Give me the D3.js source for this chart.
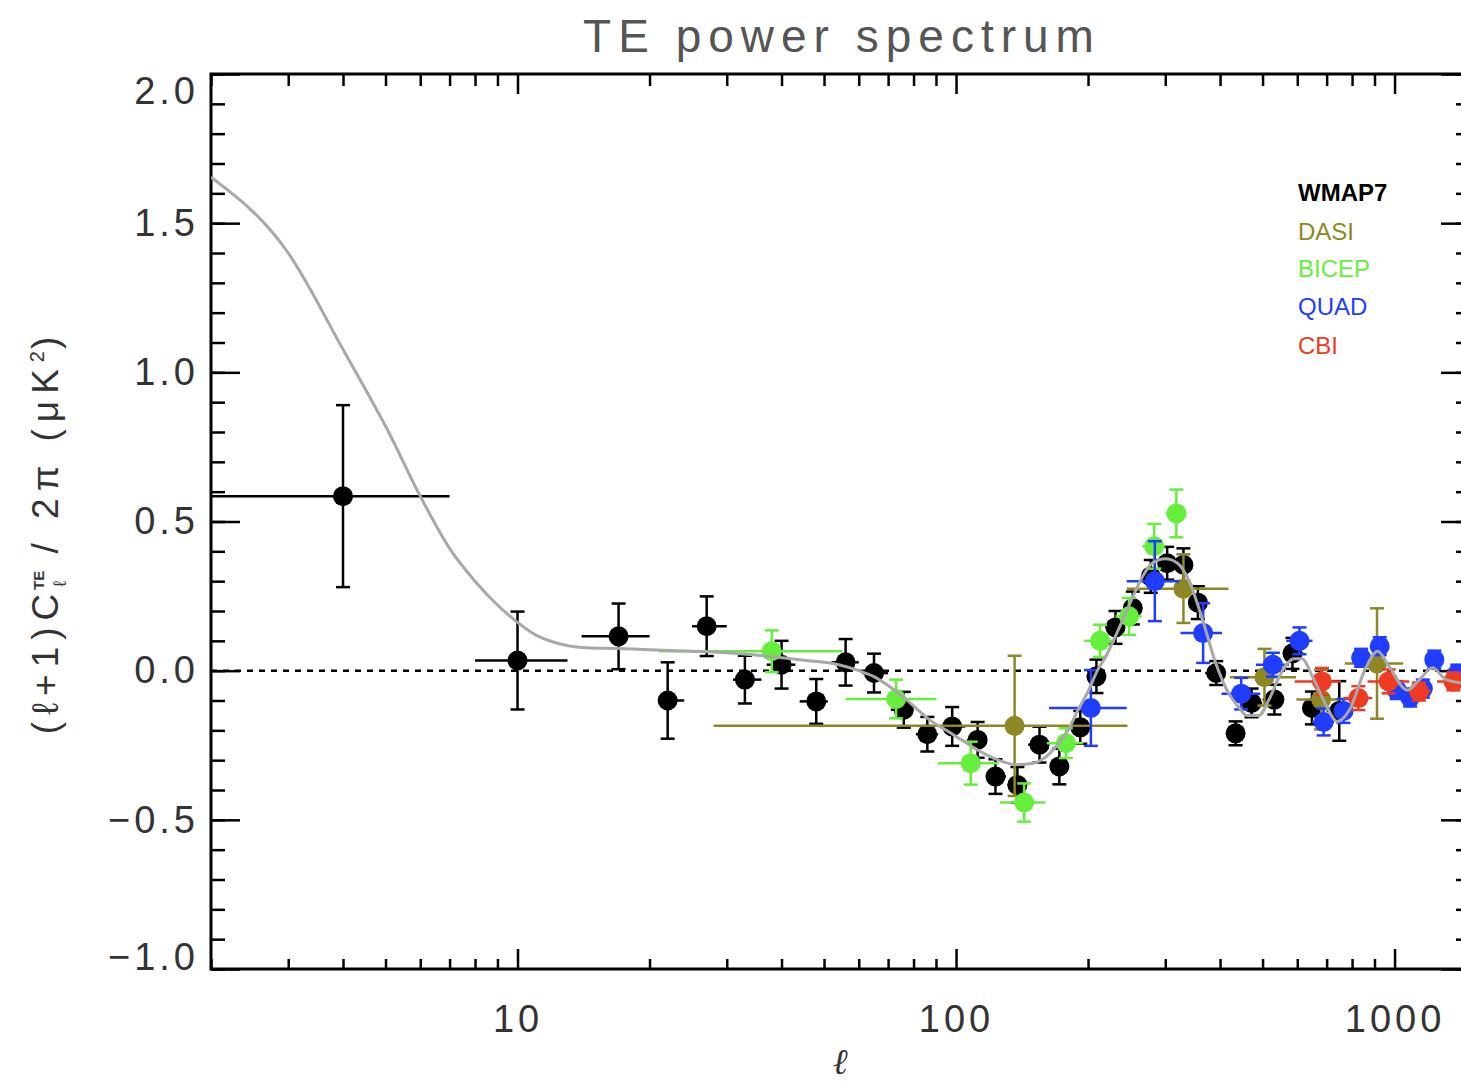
<!DOCTYPE html>
<html><head><meta charset="utf-8">
<script src="https://cdn.jsdelivr.net/npm/d3@7"></script>
<style>body{margin:0;background:#fff}</style>
</head><body>
<svg id="c" width="1461" height="1085"></svg>
<script>
// ---------- data ----------
const theoryL = [2,3,4,4.5,5,6,7,8,9,10,11,12,13,14,17,20,25,30,38,45,54,60,65,70,77,88,95,105,115,125,137,150,160,170,180,190,200,210,220,235,250,265,280,300,320,340,365,390,420,440,460,490,520,550,590,615,650,700,740,790,860,915,970,1070,1140,1220,1310,1486];
const theoryV = [1.654,1.40,1.077,0.943,0.82,0.585,0.41,0.30,0.22,0.162,0.12,0.097,0.084,0.078,0.074,0.07,0.065,0.06,0.047,0.035,0.02,0.0,-0.02,-0.05,-0.097,-0.17,-0.2,-0.24,-0.275,-0.30,-0.315,-0.31,-0.29,-0.25,-0.2,-0.13,-0.07,0.0,0.05,0.14,0.23,0.31,0.36,0.375,0.36,0.30,0.17,0.03,-0.08,-0.12,-0.15,-0.15,-0.09,-0.01,0.04,0.04,-0.02,-0.12,-0.17,-0.13,0.01,0.065,0.015,-0.065,-0.03,0.01,-0.03,-0.045];

const wmapL  = [4, 10, 17, 22, 27, 33, 40, 48, 56, 65, 76, 86, 98, 112, 123, 138, 155, 172, 192, 209, 231, 253, 278, 303, 330, 356, 392, 434, 472, 532, 585, 648, 748];
const wmapLo = [2, 8, 14, 21, 25, 31, 37, 44, 52, 61, 71, 81, 93, 106, 118, 131, 146, 164, 182, 200, 219, 242, 265, 292, 318, 342, 370, 413, 452, 500, 560, 620, 700];
const wmapHi = [7, 13, 20, 24, 30, 36, 43, 51, 60, 70, 80, 91, 105, 117, 130, 145, 163, 181, 199, 218, 241, 264, 291, 317, 341, 369, 412, 451, 499, 559, 619, 699, 800];
const wmapV  = [0.585, 0.034, 0.115, -0.10, 0.149, -0.03, 0.02, -0.103, 0.028, -0.008, -0.131, -0.213, -0.187, -0.232, -0.355, -0.383, -0.248, -0.321, -0.19, -0.019, 0.145, 0.21, 0.316, 0.36, 0.355, 0.228, -0.008, -0.21, -0.108, -0.097, 0.058, -0.125, -0.135];
const wmapE  = [0.305, 0.164, 0.11, 0.128, 0.10, 0.08, 0.08, 0.075, 0.078, 0.065, 0.06, 0.058, 0.065, 0.06, 0.058, 0.06, 0.06, 0.06, 0.055, 0.056, 0.055, 0.055, 0.055, 0.055, 0.055, 0.055, 0.04, 0.04, 0.048, 0.05, 0.052, 0.055, 0.1];

const dasiL  = [136, 330, 505, 680, 912];
const dasiLo = [28, 245, 421, 597, 770];
const dasiHi = [246, 418, 596, 748, 1047];
const dasiV  = [-0.185, 0.275, -0.022, -0.097, 0.024];
const dasiE  = [0.235, 0.115, 0.095, 0.1, 0.185];

const bicepL  = [38, 73, 108, 143, 178, 213, 248, 283, 318];
const bicepLo = [21, 56, 91, 126, 161, 196, 231, 266, 301];
const bicepHi = [55, 90, 125, 160, 195, 230, 265, 300, 335];
const bicepV  = [0.065, -0.095, -0.31, -0.442, -0.243, 0.10, 0.182, 0.417, 0.527];
const bicepE  = [0.07, 0.065, 0.072, 0.064, 0.05, 0.054, 0.062, 0.075, 0.08];

const quadL  = [203, 284, 366, 447, 528, 607, 689, 765, 839, 925, 1012, 1085, 1160, 1232, 1390];
const quadLo = [163, 245, 325, 403, 483, 566, 648, 728, 800, 880, 970, 1050, 1120, 1195, 1350];
const quadHi = [245, 323, 404, 494, 574, 650, 728, 805, 880, 965, 1050, 1125, 1195, 1275, 1430];
const quadV  = [-0.125, 0.30, 0.126, -0.077, 0.02, 0.10, -0.172, -0.135, 0.043, 0.082, -0.065, -0.09, -0.06, 0.037, -0.01];
const quadE  = [0.127, 0.134, 0.1, 0.053, 0.04, 0.045, 0.045, 0.04, 0.03, 0.03, 0.03, 0.03, 0.03, 0.03, 0.03];

const cbiL  = [683, 827, 969, 1137, 1362];
const cbiLo = [592, 764, 868, 1081, 1250];
const cbiHi = [755, 889, 1080, 1207, 1480];
const cbiV  = [-0.036, -0.092, -0.036, -0.07, -0.036];
const cbiE  = [0.045, 0.04, 0.04, 0.03, 0.03];

const legendNames  = ["WMAP7", "DASI", "BICEP", "QUAD", "CBI"];
const legendColors = ["#000000", "#8c8823", "#66ee3c", "#1f3cff", "#ee3b24"];

const yMajor = [-1, -0.5, 0, 0.5, 1, 1.5, 2];
const xMajor = [10, 100, 1000];

// ---------- scales ----------
const L = 211, R = 1470, T = 74, B = 969;
const x = d3.scaleLog().domain([2, 1486]).range([L, R]);
const y = d3.scaleLinear().domain([-1, 2]).range([B, T]);

const svg = d3.select("#c");
const FONT = "'Liberation Sans', Arial, sans-serif";

svg.append("defs").append("clipPath").attr("id","clip")
  .append("rect").attr("x",L).attr("y",T).attr("width",R-L).attr("height",B-T);

// ---------- title ----------
svg.append("text").attr("x", 842).attr("y", 52).attr("text-anchor","middle")
  .attr("font-family", FONT).attr("font-size", 46).attr("letter-spacing", 7)
  .attr("fill", "#555").text("TE power spectrum");

// ---------- axes ----------
const yMinor = d3.range(-10, 21).map(d => d / 10);
const xMinor = [];
[1, 10, 100, 1000].forEach(dec => { for (let k = 2; k <= 9; k++) { const v = k * dec; if (v >= 2 && v <= 1486) xMinor.push(v); } });

function styleAxis(g){ g.select(".domain").remove(); g.selectAll("line").attr("stroke","#000").attr("stroke-width",2.5); }

svg.append("g").attr("transform",`translate(${L},0)`)
  .call(d3.axisLeft(y).tickValues(yMinor).tickSize(-14).tickFormat("")).call(styleAxis);
const yl = svg.append("g").attr("transform",`translate(${L},0)`)
  .call(d3.axisLeft(y).tickValues(yMajor).tickSize(-29).tickPadding(12).tickFormat(d3.format(".1f"))).call(styleAxis);
yl.selectAll("text").attr("font-family", FONT).attr("font-size", 38).attr("letter-spacing", 4).attr("fill","#333");
yl.selectAll(".tick").filter(d => d === 2).select("text").attr("y", 17);
yl.selectAll(".tick").filter(d => d === -1).select("text").attr("y", -12);

svg.append("g").attr("transform",`translate(${R},0)`)
  .call(d3.axisRight(y).tickValues(yMinor).tickSize(-14).tickFormat("")).call(styleAxis);
svg.append("g").attr("transform",`translate(${R},0)`)
  .call(d3.axisRight(y).tickValues(yMajor).tickSize(-29).tickFormat("")).call(styleAxis);

svg.append("g").attr("transform",`translate(0,${B})`)
  .call(d3.axisBottom(x).tickValues(xMinor).tickSize(-10).tickFormat("")).call(styleAxis);
const xl = svg.append("g").attr("transform",`translate(0,${B})`)
  .call(d3.axisBottom(x).tickValues(xMajor).tickSize(-20).tickPadding(36).tickFormat(d3.format("d"))).call(styleAxis);
xl.selectAll("text").attr("font-family", FONT).attr("font-size", 38).attr("letter-spacing", 4).attr("fill","#333");

svg.append("g").attr("transform",`translate(0,${T})`)
  .call(d3.axisTop(x).tickValues(xMinor).tickSize(-12).tickFormat("")).call(styleAxis);
svg.append("g").attr("transform",`translate(0,${T})`)
  .call(d3.axisTop(x).tickValues(xMajor).tickSize(-20).tickFormat("")).call(styleAxis);

// frame
svg.append("rect").attr("x",L).attr("y",T).attr("width",R-L).attr("height",B-T)
  .attr("fill","none").attr("stroke","#000").attr("stroke-width",3);

// axis titles
svg.append("text").attr("x", 840).attr("y", 1074).attr("text-anchor","middle")
  .attr("font-family","'DejaVu Serif', serif").attr("font-style","italic").attr("font-size", 36).attr("fill","#333").text("ℓ");

const ylab = svg.append("text").attr("transform","translate(58,532) rotate(-90)")
  .attr("text-anchor","middle").attr("font-family", FONT).attr("font-size", 37).attr("letter-spacing", 7).attr("fill","#333");
ylab.append("tspan").text("(ℓ+1)C");
ylab.append("tspan").attr("font-size",18).attr("dy",8).attr("letter-spacing",0).text("ℓ");
ylab.append("tspan").attr("font-size",15).attr("dx",-9).attr("dy",-22).attr("letter-spacing",0).attr("font-weight","bold").text("TE");
ylab.append("tspan").attr("dy",14).text("  /  2π  (μK");
ylab.append("tspan").attr("font-size",20).attr("dy",-14).attr("letter-spacing",2).text("2");
ylab.append("tspan").attr("dy",14).text(")");

// ---------- plot content ----------
const plot = svg.append("g").attr("clip-path","url(#clip)");

plot.append("line").attr("x1",L).attr("x2",R).attr("y1",y(0)).attr("y2",y(0))
  .attr("stroke","#000").attr("stroke-width",2.5).attr("stroke-dasharray","6,6");

function drawSet(Ls, Lo, Hi, V, E, color){
  const g = plot.append("g");
  const data = Ls.map((l,i) => ({l, lo:Lo[i], hi:Hi[i], v:V[i], e:E[i]}));
  const pts = g.selectAll("g").data(data).join("g");
  pts.append("line").attr("x1",d=>x(d.lo)).attr("x2",d=>x(d.hi)).attr("y1",d=>y(d.v)).attr("y2",d=>y(d.v)).attr("stroke",color).attr("stroke-width",2.5);
  pts.append("line").attr("x1",d=>x(d.l)).attr("x2",d=>x(d.l)).attr("y1",d=>y(d.v-d.e)).attr("y2",d=>y(d.v+d.e)).attr("stroke",color).attr("stroke-width",2.5);
  pts.append("line").attr("x1",d=>x(d.l)-7).attr("x2",d=>x(d.l)+7).attr("y1",d=>y(d.v+d.e)).attr("y2",d=>y(d.v+d.e)).attr("stroke",color).attr("stroke-width",2.5);
  pts.append("line").attr("x1",d=>x(d.l)-7).attr("x2",d=>x(d.l)+7).attr("y1",d=>y(d.v-d.e)).attr("y2",d=>y(d.v-d.e)).attr("stroke",color).attr("stroke-width",2.5);
  pts.append("circle").attr("cx",d=>x(d.l)).attr("cy",d=>y(d.v)).attr("r",10).attr("fill",color);
}
drawSet(wmapL, wmapLo, wmapHi, wmapV, wmapE, legendColors[0]);
drawSet(dasiL, dasiLo, dasiHi, dasiV, dasiE, legendColors[1]);
drawSet(bicepL, bicepLo, bicepHi, bicepV, bicepE, legendColors[2]);
drawSet(quadL, quadLo, quadHi, quadV, quadE, legendColors[3]);
drawSet(cbiL, cbiLo, cbiHi, cbiV, cbiE, legendColors[4]);

const theory = theoryL.map((l,i) => [l, theoryV[i]]);
plot.append("path").datum(theory)
  .attr("d", d3.line().x(d=>x(d[0])).y(d=>y(d[1])).curve(d3.curveMonotoneX))
  .attr("fill","none").attr("stroke","#a8a8a8").attr("stroke-width",3);

// ---------- legend ----------
const legY = [201, 240, 277, 315, 354];
svg.append("g").selectAll("text").data(legendNames).join("text")
  .attr("x", 1298).attr("y", (d,i) => legY[i])
  .attr("font-family", FONT).attr("font-size", 24)
  .attr("font-weight", (d,i) => i === 0 ? "bold" : "normal")
  .attr("fill", (d,i) => legendColors[i]).text(d => d);
</script>
</body></html>
